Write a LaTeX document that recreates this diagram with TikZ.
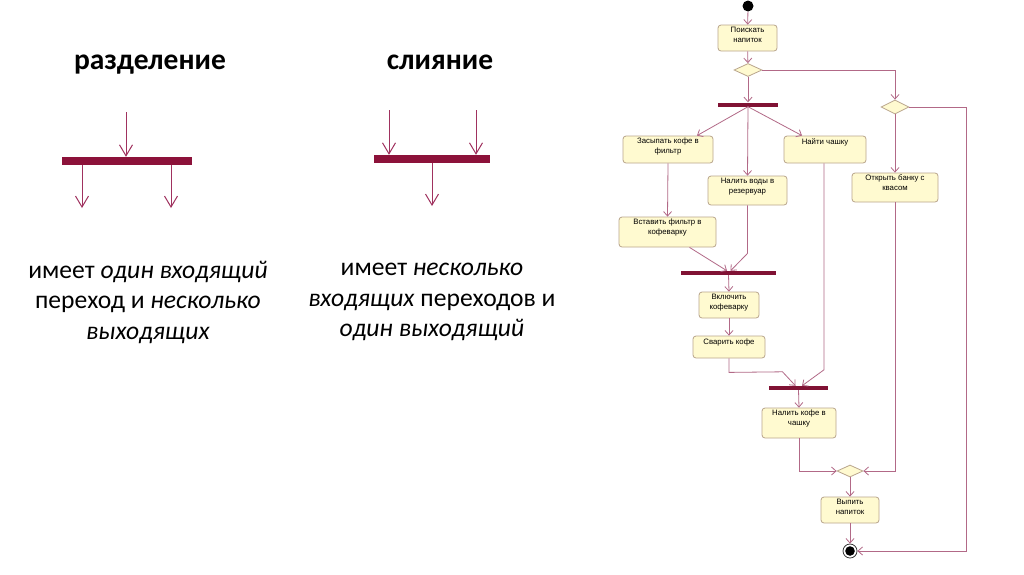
\documentclass[tikz,border=0pt]{standalone}
\usepackage{fontspec}
\setmainfont{Carlito}
\newfontfamily\diagfont{Liberation Sans}
\usetikzlibrary{arrows.meta,shapes.geometric,calc}
\definecolor{bigbarc}{RGB}{140,18,58}
\definecolor{bigarrc}{RGB}{160,50,95}
\definecolor{linec}{RGB}{178,105,135}
\definecolor{barc}{RGB}{128,18,52}
\definecolor{boxfill}{RGB}{255,250,208}
\definecolor{boxdraw}{RGB}{185,165,140}
\tikzset{
  titletext/.style={font=\bfseries\fontsize{29.5}{34}\selectfont, anchor=base},
  bodytext/.style={font=\fontsize{25.6}{30.5}\selectfont, align=center},
  bigbar/.style={rectangle, fill=bigbarc, inner sep=0},
  bigarrow/.style={draw=bigarrc, line width=1pt, -{Straight Barb[length=11pt,width=13pt,line width=1pt]}},
  act/.style={rectangle, rounded corners=3pt, draw=boxdraw, fill=boxfill, line width=0.8pt, inner sep=0},
  lbl/.style={font=\diagfont\fontsize{7.8}{10.3}\selectfont, align=center, inner sep=0, anchor=north, text=black},
  dec/.style={diamond, draw=boxdraw, fill=boxfill, line width=0.8pt, inner sep=0},
  forkbar/.style={rectangle, fill=barc, inner sep=0, minimum height=4},
  conn/.style={draw=linec, line width=0.8pt, -{Straight Barb[length=4.5pt,width=8pt,line width=0.8pt]}},
  startc/.style={circle, fill=black, inner sep=0, minimum size=11},
  endc/.style={circle, draw=black!80, fill=white, line width=0.8pt, inner sep=0, minimum size=14,
    path picture={\fill[black] (path picture bounding box.center) circle (4.8pt);}},
}
\begin{document}
\begin{tikzpicture}[x=1pt,y=-1pt]
\useasboundingbox (0,0) rectangle (1024,574);
\fill[white] (0,0) rectangle (1024,574);

% ---------- left: fork ----------
\node[titletext] (t1) at (150,69) {разделение};
\node[bigbar, minimum width=130, minimum height=8] (fk) at (127,161) {};
\coordinate (fin) at (126,112);
\coordinate (fo1) at (82,208);
\coordinate (fo2) at (171,208);
\draw[bigarrow] (fin) -- (fin |- fk.north);
\draw[bigarrow] (fo1 |- fk.south) -- (fo1);
\draw[bigarrow] (fo2 |- fk.south) -- (fo2);
\node[bodytext] (x1) at (148,302) {имеет \textit{один входящий}\\переход и \textit{несколько}\\\textit{выходящих}};

% ---------- left: join ----------
\node[titletext] (t2) at (440,69) {слияние};
\node[bigbar, minimum width=116, minimum height=8] (mg) at (432,159) {};
\coordinate (mi1) at (389,110);
\coordinate (mi2) at (476,110);
\coordinate (mo) at (432,206);
\draw[bigarrow] (mi1) -- (mi1 |- mg.north);
\draw[bigarrow] (mi2) -- (mi2 |- mg.north);
\draw[bigarrow] (mo |- mg.south) -- (mo);
\node[bodytext] (x2) at (432,302) {имеет \textit{несколько}\\\textit{входящих} переходов и\\\textit{один выходящий}};

% ---------- right: activity diagram ----------
\node[startc] (s) at (748,6) {};
\node[act, minimum width=59, minimum height=26] (b1) at (747.5,38) {};
\node[lbl] at ([yshift=-2pt]b1.north) {Поискать\\напиток};
\node[dec, minimum width=28, minimum height=13] (d1) at (748,70) {};
\node[forkbar, minimum width=60] (f1) at (748,104.5) {};
\node[act, minimum width=90, minimum height=27] (b2) at (668,149.5) {};
\node[lbl] at ([yshift=-2pt]b2.north) {Засыпать кофе в\\фильтр};
\node[act, minimum width=79, minimum height=29] (b3) at (747.5,190.5) {};
\node[lbl] at ([yshift=-2pt]b3.north) {Налить воды в\\резервуар};
\node[act, minimum width=82, minimum height=27] (b4) at (825,149.5) {};
\node[lbl] at ([yshift=-3pt]b4.north) {Найти чашку};
\node[dec, minimum width=28, minimum height=14] (d2) at (895,107) {};
\node[act, minimum width=86, minimum height=29] (b5) at (895,187.5) {};
\node[lbl] at ([yshift=-2pt]b5.north) {Открыть банку с\\квасом};
\node[act, minimum width=97, minimum height=30] (b6) at (667.5,232) {};
\node[lbl] at ([yshift=-2pt]b6.north) {Вставить фильтр в\\кофеварку};
\node[forkbar, minimum width=95] (f2) at (728.5,273) {};
\node[act, minimum width=60, minimum height=26] (b7) at (729,305) {};
\node[lbl] at ([yshift=-2pt]b7.north) {Включить\\кофеварку};
\node[act, minimum width=72, minimum height=22] (b8) at (729,347) {};
\node[lbl] at ([yshift=-3pt]b8.north) {Сварить кофе};
\node[forkbar, minimum width=59] (f3) at (798.5,388) {};
\node[act, minimum width=74, minimum height=30] (b9) at (799,423) {};
\node[lbl] at ([yshift=-2pt]b9.north) {Налить кофе в\\чашку};
\node[dec, minimum width=26, minimum height=12] (d3) at (850,471) {};
\node[act, minimum width=58, minimum height=26] (b10) at (850,510) {};
\node[lbl] at ([yshift=-2pt]b10.north) {Выпить\\напиток};
\node[endc] (e) at (850,551) {};
\coordinate (r) at (966,300);

\draw[conn] (s) -- (b1);
\draw[conn] (b1) -- (d1);
\draw[conn] (d1.east) -| (d2.north);
\draw[conn] (d1.south) -- (f1.north);
\draw[conn] (f1.south) -- ([xshift=29pt]b2.north);
\draw[conn] (f1.south) -- (b3.north);
\draw[conn] (f1.south) -- ([xshift=-23pt]b4.north);
\draw[conn] (d2.south) -- (b5.north);
\draw[conn] (d2.east) -- (d2.east -| r) -- (r |- e) -- (e.east);
\draw[conn] (b2.south) -- (b6.north);
\draw[conn] ([xshift=22pt]b6.south) -- ([xshift=-1.5pt]f2.north);
\draw[conn] (b3.south) -- ([yshift=-48pt]b3.south) -- ([xshift=2pt]f2.north);
\draw[conn] (f2.south) -- (b7.north);
\draw[conn] (b7.south) -- (b8.north);
\draw[conn] (b8.south) -- ([yshift=-14pt]b8.south) -- ([xshift=-16pt,yshift=14pt]f3.north) -- ([xshift=-3pt]f3.north);
\draw[conn] ([xshift=-1pt]b4.south) -- ([xshift=25.5pt,yshift=16pt]f3.north) -- ([xshift=3.5pt]f3.north);
\draw[conn] (f3.south) -- (b9.north);
\draw[conn] (b9.south) |- (d3.west);
\draw[conn] (b5.south) |- (d3.east);
\draw[conn] (d3.south) -- (b10.north);
\draw[conn] (b10.south) -- (e.north);
\end{tikzpicture}
\end{document}
